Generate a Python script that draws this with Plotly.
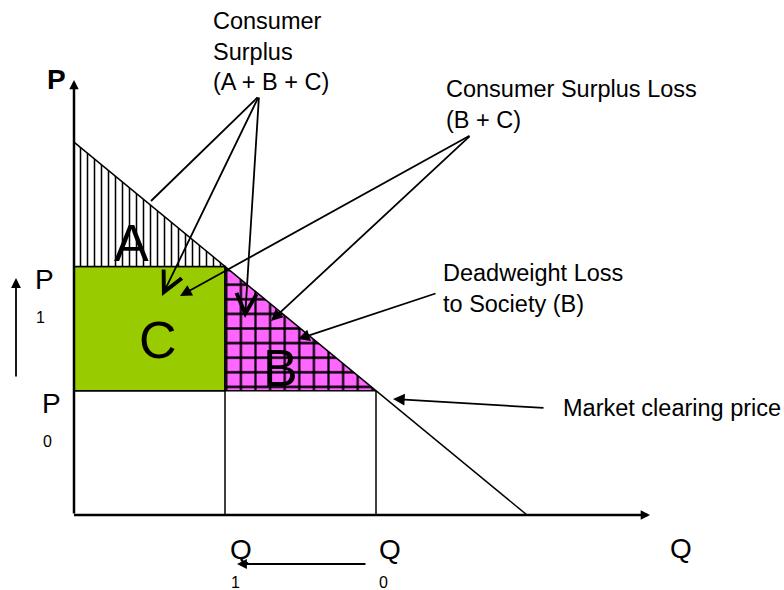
import plotly.graph_objects as go

# ---- data (economic units) ----
demand_q = [0, 6]          # quantity at the two ends of the demand curve
demand_p = [3, 0]          # price at the two ends of the demand curve
q_labels = ["Q1", "Q0"]
q_values = [2, 4]          # Q1 (after price rise), Q0 (market clearing)
p_labels = ["P1", "P0"]
p_values = [2, 1]          # P1 (raised price), P0 (market clearing)
q_axis_max = 7.63
p_axis_max = 3.5

q1, q0 = q_values
p1, p0 = p_values

# ---- canvas / scale ----
W, H = 784, 590
X0, XS = 74, 75.5     # pixel of Q=0, pixels per unit
Y0, YS = 515, 124.3   # pixel of P=0, pixels per unit
xr = [-X0 / XS, (W - X0) / XS]
yr = [-(H - Y0) / YS, Y0 / YS]


def dq(px):
    return (px - X0) / XS


def dp(py):
    return (Y0 - py) / YS


def pxp(x):
    return x / W


def pyp(y):
    return 1 - y / H


def p_on_demand(q):
    return demand_p[0] + (demand_p[1] - demand_p[0]) * (q - demand_q[0]) / (demand_q[1] - demand_q[0])


FONT = "Liberation Sans, Arial, sans-serif"
fig = go.Figure()

# region C (green rectangle)
fig.add_trace(go.Scatter(
    x=[0, q1, q1, 0, 0], y=[p0, p0, p1, p1, p0], fill="toself",
    fillcolor="#99CC00", mode="lines", line=dict(color="black", width=1.5),
    hoverinfo="skip"))
# region A (vertical hatch)
fig.add_trace(go.Scatter(
    x=[0, q1, 0, 0], y=[p1, p_on_demand(q1), demand_p[0], p1], fill="toself",
    fillcolor="white", mode="none",
    fillpattern=dict(shape="|", size=7, solidity=0.22, fgcolor="black",
                     bgcolor="white", fgopacity=1),
    hoverinfo="skip"))
# region B (magenta grid)
fig.add_trace(go.Scatter(
    x=[q1, q0, q1, q1], y=[p0, p_on_demand(q0), p1, p0], fill="toself",
    fillcolor="#FF66FF", mode="none",
    fillpattern=dict(shape="+", size=14.6, solidity=0.28, fgcolor="black",
                     bgcolor="#FF66FF", fgopacity=1),
    hoverinfo="skip"))

# guide lines
line_style = dict(color="black", width=1.5)
fig.add_trace(go.Scatter(x=[q1, q1], y=[0, p1], mode="lines", line=line_style, hoverinfo="skip"))
fig.add_trace(go.Scatter(x=[0, q0], y=[p0, p0], mode="lines", line=line_style, hoverinfo="skip"))
fig.add_trace(go.Scatter(x=[q0, q0], y=[0, p0], mode="lines", line=line_style, hoverinfo="skip"))
fig.add_trace(go.Scatter(x=[0, q1], y=[p1, p1], mode="lines", line=line_style, hoverinfo="skip"))
# demand curve
fig.add_trace(go.Scatter(x=demand_q, y=demand_p, mode="lines", line=line_style, hoverinfo="skip"))

annotations = []


def arrow(tail, head, head_style=2, size=1.3, width=1.5):
    annotations.append(dict(
        x=dq(head[0]), y=dp(head[1]), ax=dq(tail[0]), ay=dp(tail[1]),
        xref="x", yref="y", axref="x", ayref="y", text="", showarrow=True,
        arrowhead=head_style, arrowsize=size, arrowwidth=width,
        arrowcolor="black", standoff=0))


# axes
annotations.append(dict(x=0, y=p_axis_max, ax=0, ay=0, xref="x", yref="y",
                        axref="x", ayref="y", text="", showarrow=True,
                        arrowhead=2, arrowsize=0.75, arrowwidth=2.5,
                        arrowcolor="black", standoff=0))
annotations.append(dict(x=q_axis_max, y=0, ax=-0.02, ay=0, xref="x", yref="y",
                        axref="x", ayref="y", text="", showarrow=True,
                        arrowhead=2, arrowsize=0.75, arrowwidth=2.5,
                        arrowcolor="black", standoff=0))

# Consumer Surplus arrows (open heads)
arrow((259, 96), (151, 201), head_style=0, width=1.8)
arrow((259, 96), (162, 296), head_style=5, size=2.2, width=1.8)
arrow((259, 96), (245, 318), head_style=5, size=2.2, width=1.8)
# Consumer Surplus Loss arrows (filled)
arrow((471, 135), (180, 296), head_style=2, size=1.3, width=1.8)
arrow((471, 135), (271, 321), head_style=2, size=1.3, width=1.8)
# Deadweight loss
arrow((437, 293), (298, 339), head_style=2, size=1.3, width=1.8)
# Market clearing price
arrow((545, 408), (393, 399), head_style=2, size=1.3, width=1.8)
# small direction arrows
arrow((16, 378), (16, 278), head_style=2, size=1.1, width=1.8)
arrow((367, 564), (237, 564), head_style=2, size=1.1, width=1.8)


def label(text, x, y, size, bold=False, xanchor="center", yanchor="middle", align="center"):
    t = f"<b>{text}</b>" if bold else text
    annotations.append(dict(x=pxp(x), y=pyp(y), xref="paper", yref="paper",
                            text=t, showarrow=False, xanchor=xanchor, yanchor=yanchor,
                            align=align, font=dict(family=FONT, size=size, color="black")))


# axis titles
label("P", 56, 79, 28, bold=True)
label("Q", 681, 548, 28)
# price / quantity level labels
label("P", 44, 279, 28)
label("1", 40, 317, 16)
label("P", 51, 403, 28)
label("0", 47, 441, 16)
label("Q", 241, 549, 28)
label("1", 235, 582, 16)
label("Q", 390, 549, 28)
label("0", 383, 582, 16)
# area letters
label("A", 131, 243, 52)
label("C", 158, 340, 52)
label("B", 280, 368, 52)
# descriptive texts
label("Consumer<br>Surplus<br>(A + B + C)", 211, 6, 23.5, xanchor="left", yanchor="top", align="left")
label("Consumer Surplus Loss<br>(B + C)", 444, 74, 23.5, xanchor="left", yanchor="top", align="left")
label("Deadweight Loss<br>to Society (B)", 441, 258, 23.5, xanchor="left", yanchor="top", align="left")
label("Market clearing price", 561, 408, 23.5, xanchor="left", yanchor="middle", align="left")

fig.update_layout(
    width=W, height=H, autosize=False,
    margin=dict(l=0, r=0, t=0, b=0),
    paper_bgcolor="white", plot_bgcolor="white",
    showlegend=False,
    xaxis=dict(range=xr, visible=False, fixedrange=True),
    yaxis=dict(range=yr, visible=False, fixedrange=True),
    annotations=annotations,
)

fig.write_html("out.html", config={"displayModeBar": False},
               post_script="document.body.style.margin='0';")
